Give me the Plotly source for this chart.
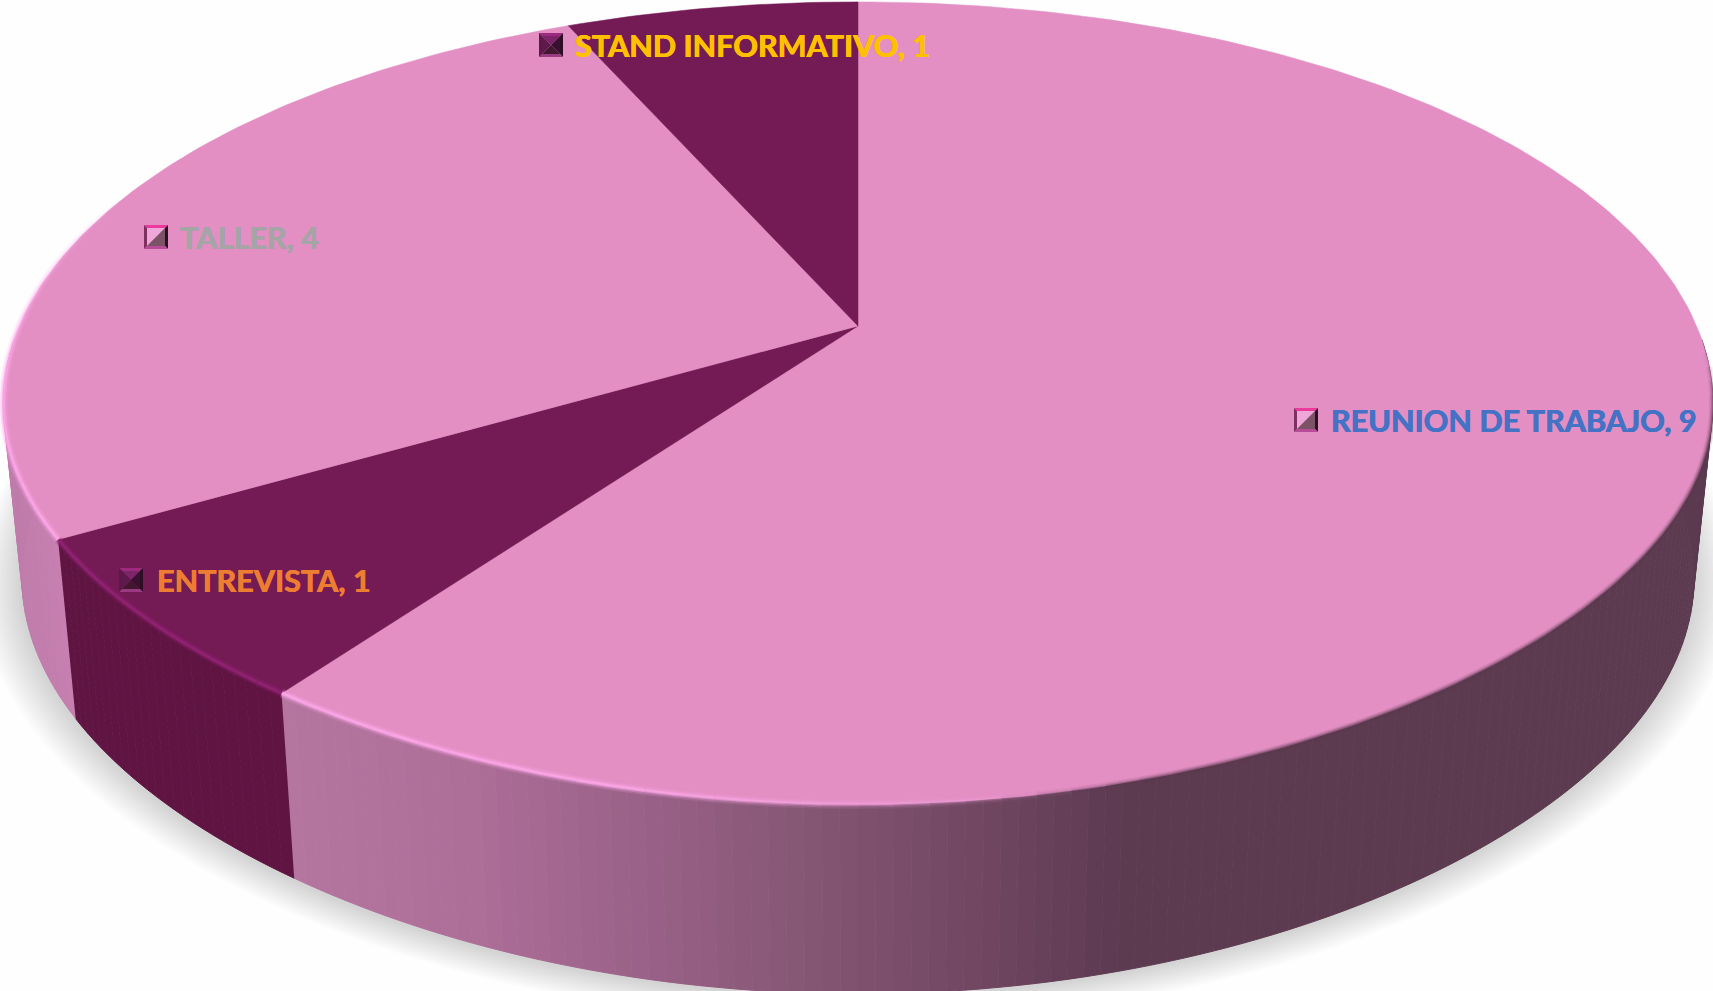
import numpy as np
import plotly.graph_objects as go

categories = ["REUNION DE TRABAJO", "ENTREVISTA", "TALLER", "STAND INFORMATIVO"]
values = [9, 1, 4, 1]
label_colors = ["#4472C4", "#ED7D31", "#A5A5A5", "#FFC000"]

W, H = 1713, 991
CX, CY, A, B, K = 858.0, 326.0, 838.6, 387.0, -0.194
EY, ERX, ERY = 404.0, 855.0, 402.0
TOP_COLORS = ["#E38FC4", "#741A55", "#E38FC4", "#741A55"]
WALL_DARK = "#5F1442"
KEY_POS = [(1306, 420), (131, 580), (156, 237), (551, 45)]
TXT_X = [1331, 157, 180, 575]
KEY_DARK = [False, True, False, True]


def top(theta):
    t = np.radians(theta)
    u, v = np.sin(t), -np.cos(t)
    d = 1 + K * v
    x, y = CX + A * u / d, CY + B * v / d
    # the front half of the rim sits slightly inside a true ellipse
    nx, ny = (x - CX) / ERX, (y - EY) / ERY
    phi = np.arctan2(np.abs(nx), np.maximum(ny, 1e-6))
    f = 1 - 0.004 * np.cos(phi) ** 2 - 0.012 * np.sin(2 * phi) ** 2
    f = np.where(ny > 0, f, 1.0)
    return CX + (x - CX) * f, EY + (y - EY) * f


def bottom(theta):
    x, y = top(theta)
    return CX + 0.978 * (x - CX), y + 185 + 0.0387 * (y - 693)


def hexrgb(c):
    return np.array([int(c[i:i + 2], 16) for i in (1, 3, 5)], float)


def mix(stops, x):
    xs = [s[0] for s in stops]
    cols = np.array([hexrgb(s[1]) for s in stops])
    return "rgb(%d,%d,%d)" % tuple(np.interp(x, xs, cols[:, i]) for i in range(3))


LIGHT_WALL = [(280, "#B577A0"), (480, "#AD6E98"), (640, "#9A6288"), (800, "#875776"),
              (1000, "#6E4560"), (1130, "#5C3A50"), (1713, "#5C3A50")]
LEFT_WALL = [(0, "#BE7CAA"), (80, "#C880B2")]

fig = go.Figure()


def poly(xs, ys, fill, line=None, lw=1):
    fig.add_trace(go.Scatter(x=xs, y=ys, mode="lines", fill="toself", fillcolor=fill,
                             line=dict(color=line or fill, width=lw),
                             hoverinfo="skip", showlegend=False))


# soft shadow beneath the disc
ring = np.linspace(0, 360, 181)
bx, by = bottom(ring)
for i in range(14):
    g = 1 + 0.0035 * (i + 1)
    poly(CX + (bx - CX) * g - 1, 440 + (by - 440) * g + 2, "rgba(0,0,0,0.012)", "rgba(0,0,0,0)", 0)

# wedge boundaries, clockwise from twelve o'clock
edges = np.concatenate([[0], np.cumsum(values) / np.sum(values) * 360])

# side wall
for i, (a0, a1) in enumerate(zip(edges[:-1], edges[1:])):
    lo, hi = max(a0, 92), min(a1, 268)
    if hi <= lo:
        continue
    n = max(2, int((hi - lo) / 1.0))
    th = np.linspace(lo, hi, n + 1)
    for t0, t1 in zip(th[:-1], th[1:]):
        seg = np.array([t0, t1])
        x1, y1 = top(seg)
        x2, y2 = bottom(seg[::-1])
        xm = (x1.mean() + x2.mean()) / 2
        if i == 0:
            col = mix(LIGHT_WALL, xm)
        elif i == 1:
            col = WALL_DARK
        else:
            col = mix(LEFT_WALL, xm)
        poly(np.r_[x1, x2], np.r_[y1, y2], col)

# top faces
for i, (a0, a1) in enumerate(zip(edges[:-1], edges[1:])):
    th = np.linspace(a0, a1, max(3, int(a1 - a0) + 1))
    x, y = top(th)
    poly(np.r_[CX, x, CX], np.r_[CY, y, CY], TOP_COLORS[i], TOP_COLORS[i], 0.5)


# rim shading
def rim(t0, t1, col_fn, layers=((9, 0.16), (6, 0.3), (3, 0.7))):
    th = np.arange(t0, t1 + 0.01, 2.0)
    for a, b in zip(th[:-1], th[1:]):
        x, y = top(np.array([a, b]))
        r, g, bb, k = col_fn((a + b) / 2)
        for w, al in layers:
            fig.add_trace(go.Scatter(x=x, y=y, mode="lines",
                                     line=dict(color=f"rgba({r},{g},{bb},{al * k:.3f})", width=w),
                                     hoverinfo="skip", showlegend=False))


DARK_BLUR = ((7, 0.14), (4, 0.25), (2, 0.35))
rim(94, 172, lambda a: (92, 58, 80, np.clip((172 - a) / 10, 0, 1) * np.clip((a - 94) / 8, 0, 1)), DARK_BLUR)
rim(166, edges[1], lambda a: (255, 170, 235, np.clip((a - 166) / 28, 0, 1)))
rim(edges[1], edges[2], lambda a: (150, 35, 120, 1))
rim(edges[2], 292, lambda a: (255, 170, 235, np.clip((292 - a) / 30, 0, 1)))

# bevelled legend keys
shapes = []
S, F = 12.0, 3.0


def tri(pts, col):
    d = "M" + " L".join(f"{p[0]},{p[1]}" for p in pts) + " Z"
    shapes.append(dict(type="path", xref="x", yref="y", layer="above", path=d,
                       fillcolor=col, line=dict(width=0)))


for (kx, ky), dark in zip(KEY_POS, KEY_DARK):
    o = [(kx - S, ky - S), (kx + S, ky - S), (kx + S, ky + S), (kx - S, ky + S)]
    n = [(kx - S + F, ky - S + F), (kx + S - F, ky - S + F), (kx + S - F, ky + S - F), (kx - S + F, ky + S - F)]
    frame = ["#9E2A80", "#2E0E25", "#9A3A80", "#5E1746"] if dark else ["#EC3A9C", "#2E1020", "#B84C98", "#7E3060"]
    for j in range(4):
        tri([o[j], o[(j + 1) % 4], n[(j + 1) % 4], n[j]], frame[j])
    c = (kx, ky)
    if dark:
        for j, col in enumerate(["#7E2468", "#3A1030", "#43172F", "#5E1A4C"]):
            tri([n[j], n[(j + 1) % 4], c], col)
    else:
        tri([n[3], n[0], n[1]], "#EFA6D8")
        tri([n[1], n[2], n[3]], "#7C5266")

# labels
for cat, val, col, (kx, ky), tx in zip(categories, values, label_colors, KEY_POS, TXT_X):
    fig.add_trace(go.Scatter(x=[tx], y=[ky + 4.5], mode="text", text=[f"{cat}, {val}"],
                             textposition="middle right",
                             textfont=dict(family="Lato", size=30.6, color=col, weight="bold",
                                           shadow=f"0.4px 0 0 {col}, -0.4px 0 0 {col}"),
                             hoverinfo="skip", showlegend=False))

fig.update_layout(width=W, height=H, margin=dict(l=0, r=0, t=0, b=0),
                  paper_bgcolor="#FEFEFE", plot_bgcolor="#FEFEFE", shapes=shapes,
                  xaxis=dict(range=[0, W], visible=False, fixedrange=True),
                  yaxis=dict(range=[H, 0], visible=False, fixedrange=True))
fig.write_html("out.html", config={"displayModeBar": False},
               post_script="document.body.style.margin='0';")
